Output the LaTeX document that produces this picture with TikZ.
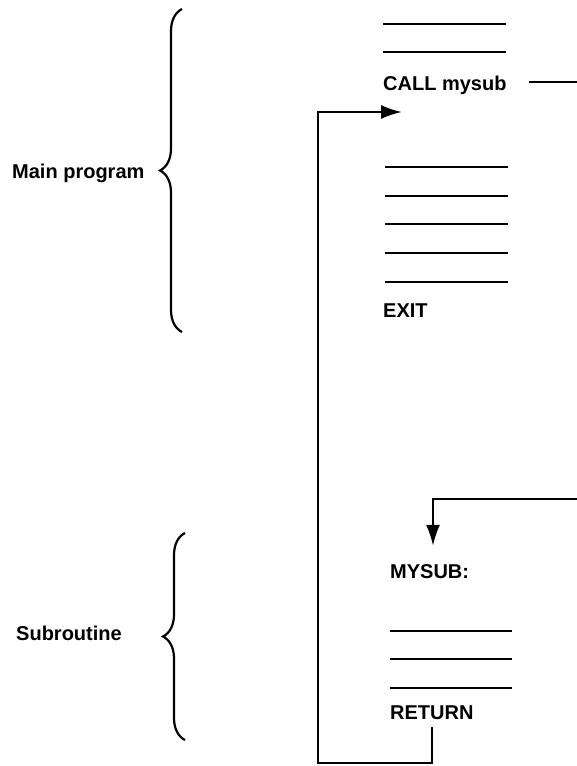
\documentclass[tikz,border=0pt]{standalone}
\usepackage{fontspec}
\setmainfont{Liberation Sans}
\usetikzlibrary{calc,positioning,arrows.meta,decorations.pathreplacing}

\tikzset{
  code/.style={inner sep=0pt, anchor=base west, font=\fontsize{20}{24}\selectfont\bfseries},
  lbl/.style={inner sep=0pt, anchor=base west, font=\fontsize{20}{24}\selectfont\bfseries},
  rule/.style={line width=2.2pt},
  flow/.style={line width=2.2pt, -{Latex[length=21pt,width=14pt]}},
  curly/.style={line width=2.2pt, decorate, decoration={brace, amplitude=22pt, aspect=0.5}}
}

\begin{document}
\begin{tikzpicture}[x=1pt, y=-1pt]
    \useasboundingbox (0,0) rectangle (577,766);

    % Main program block
    \draw[rule] (383, 24) -- (506, 24);
    \draw[rule] (383, 52) -- (506, 52);
    \node[code] (call) at (383, 90) {CALL mysub};

    \draw[rule] (385, 167) -- (508, 167);
    \draw[rule] (385, 196) -- (508, 196);
    \draw[rule] (385, 224) -- (508, 224);
    \draw[rule] (385, 253) -- (508, 253);
    \draw[rule] (385, 282) -- (508, 282);
    \node[code] (exit) at (383, 317) {EXIT};

    % Subroutine block
    \node[code] (mysub) at (390, 578) {MYSUB:};
    \draw[rule] (390, 631) -- (512, 631);
    \draw[rule] (390, 659) -- (512, 659);
    \draw[rule] (390, 688) -- (512, 688);
    \node[code] (ret) at (390, 719) {RETURN};

    % Braces and their labels
    \coordinate (mainTop) at (182, 9);
    \coordinate (mainBot) at (182, 332);
    \draw[curly] (mainBot) -- (mainTop);
    \node[lbl] (mainlbl) at (12, 178) {Main program};

    \coordinate (subTop) at (185, 533);
    \coordinate (subBot) at (185, 740);
    \draw[curly] (subBot) -- (subTop);
    \node[lbl] (sublbl) at (16, 640) {Subroutine};

    % Call: out to the right edge, back in above MYSUB
    \coordinate (callOut) at (577, 82);
    \draw[rule] ([xshift=22pt]call.east |- callOut) -- (callOut);

    \coordinate (subIn) at (577, 499);
    \draw[flow] (subIn) -| ([xshift=43pt, yshift=18pt]mysub.north west);

    % Return: down, left, up and back after the call
    \coordinate (back) at (318, 763);
    \draw[flow] ([yshift=-8pt]ret.south) |- (back) |- ([xshift=19pt, yshift=-22pt]call.base west);
\end{tikzpicture}
\end{document}
